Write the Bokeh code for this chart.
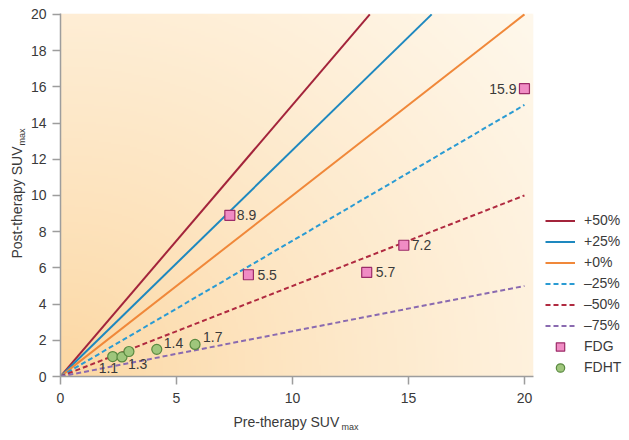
import numpy as np
from bokeh.plotting import figure
from bokeh.models import Range1d, Legend, LegendItem, Title, FixedTicker, ColumnDataSource
from bokeh.embed import file_html
from bokeh.resources import INLINE
from bokeh.core.properties import value

# ---------------- data ----------------
change_labels = ["+50%", "+25%", "+0%", "\u201325%", "\u201350%", "\u201375%"]
change_slopes = [1.5, 1.25, 1.0, 0.75, 0.5, 0.25]

fdg_pre = [7.3, 8.1, 14.8, 13.2, 20.0]
fdg_post = [8.9, 5.62, 7.25, 5.75, 15.9]
fdg_text = ["8.9", "5.5", "7.2", "5.7", "15.9"]

fdht_pre = [2.25, 2.65, 2.95, 4.15, 5.8]
fdht_post = [1.1, 1.08, 1.38, 1.5, 1.77]
fdht_text = ["1.1", "", "1.3", "1.4", "1.7"]

x_ticks = [0, 5, 10, 15, 20]
y_ticks = [0, 2, 4, 6, 8, 10, 12, 14, 16, 18, 20]
x_max = 20.0
y_max = 20.0

# ---------------- styles ----------------
FONT = "Liberation Sans"
TXT = "#3a3a3a"
AX = "#9d9d9d"
line_colors = ["#a3243b", "#1e88bf", "#f0883a", "#2a9bd3", "#b02a40", "#8a6ab0"]
line_dashes = ["solid", "solid", "solid", "5 3", "5 3", "5 3"]

XR = (0, 20.39)
YR = (0, 20.05)

p = figure(frame_width=473, frame_height=363, output_backend="svg", toolbar_location=None,
           x_range=Range1d(*XR), y_range=Range1d(*YR),
           min_border_left=60, min_border_right=88, min_border_top=13, min_border_bottom=56)
p.outline_line_color = None
p.grid.visible = False
p.background_fill_color = "white"
p.border_fill_color = "white"

# background gradient
N = 200
xn = np.linspace(0, 1, N)[None, :]
yn = np.linspace(0, 1, N)[:, None]
t = np.clip(np.sqrt(xn ** 2 + 0.7 * yn ** 2) / np.sqrt(1.7), 0, 1) ** 0.8
c0 = np.array([252, 214, 160])
c1 = np.array([255, 248, 236])
img = np.empty((N, N), dtype=np.uint32)
view = img.view(dtype=np.uint8).reshape((N, N, 4))
for i in range(3):
    view[:, :, i] = (c0[i] + (c1[i] - c0[i]) * t).astype(np.uint8)
view[:, :, 3] = 255
p.image_rgba(image=[img], x=XR[0], y=YR[0], dw=XR[1] - XR[0], dh=YR[1] - YR[0], level="image")

# axes
for ax in (p.xaxis[0], p.yaxis[0]):
    ax.axis_line_color = AX
    ax.axis_line_width = 1.5
    ax.major_tick_line_color = AX
    ax.major_tick_line_width = 1.5
    ax.major_tick_in = 0
    ax.major_tick_out = 8
    ax.minor_tick_line_color = None
    ax.major_label_text_font = FONT
    ax.major_label_text_font_size = "14px"
    ax.major_label_text_color = TXT
p.xaxis.ticker = FixedTicker(ticks=x_ticks)
p.yaxis.ticker = FixedTicker(ticks=y_ticks)
p.xaxis.major_label_standoff = 8
p.yaxis.major_label_standoff = 6

# reference lines
line_renderers = []
for k, col, dash in zip(change_slopes, line_colors, line_dashes):
    xe = min(x_max, y_max / k)
    r = p.line([0, xe], [0, xe * k], line_color=col, line_width=2, line_dash=dash)
    line_renderers.append(r)

# points
fdg_r = p.scatter(fdg_pre, fdg_post, marker="square", size=10,
                  fill_color="#f08cc4", line_color="#9c2c68", line_width=1.2)
fdht_r = p.scatter(fdht_pre, fdht_post, marker="circle", size=10,
                   fill_color="#9fc67c", line_color="#5a8a40", line_width=1.2)

# point labels
fdg_dx = [7, 9, 8, 9, -8]
fdg_align = ["left", "left", "left", "left", "right"]
for al in ("left", "right"):
    idx = [i for i, a in enumerate(fdg_align) if a == al]
    src = ColumnDataSource(dict(x=[fdg_pre[i] for i in idx], y=[fdg_post[i] for i in idx],
                                text=[fdg_text[i] for i in idx], dx=[fdg_dx[i] for i in idx]))
    p.text(x="x", y="y", text="text", x_offset="dx", y_offset=0, source=src,
           text_font=value(FONT), text_font_size="14px", text_color=TXT,
           text_align=al, text_baseline="middle")

fdht_dx = [-14, 0, -1, 7, 8]
fdht_dy = [11, 0, 12, -6, -7]
src = ColumnDataSource(dict(x=fdht_pre, y=fdht_post, text=fdht_text, dx=fdht_dx, dy=fdht_dy))
p.text(x="x", y="y", text="text", x_offset="dx", y_offset="dy", source=src,
       text_font=value(FONT), text_font_size="14px", text_color=TXT,
       text_align="left", text_baseline="middle")

# legend (right panel)
items = [LegendItem(label=l, renderers=[r]) for l, r in zip(change_labels, line_renderers)]
items += [LegendItem(label="FDG", renderers=[fdg_r]), LegendItem(label="FDHT", renderers=[fdht_r])]
leg = Legend(items=items, location=(12, -1.5), orientation="vertical",
             glyph_width=30, glyph_height=21, label_height=21, spacing=0,
             padding=0, margin=0, label_standoff=9,
             border_line_color=None, background_fill_alpha=0,
             label_text_font=FONT, label_text_font_size="14px", label_text_color=TXT)
p.add_layout(leg, "right")

# axis titles (with subscript) as side-panel titles
def ttl(text, size, offset, standoff, valign):
    return Title(text=text, align="left", offset=offset, standoff=standoff,
                 vertical_align=valign, text_font=FONT, text_font_size=size,
                 text_font_style="normal", text_color=TXT)

p.add_layout(ttl("Pre-therapy SUV", "14px", 173, 12, "bottom"), "below")
p.add_layout(ttl("max", "9px", 281, -28, "top"), "below")
p.add_layout(ttl("max", "9px", 231, 0, "middle"), "left")
p.add_layout(ttl("Post-therapy SUV", "14px", 118, -18, "bottom"), "left")

open("out.html", "w").write(file_html(p, INLINE))
